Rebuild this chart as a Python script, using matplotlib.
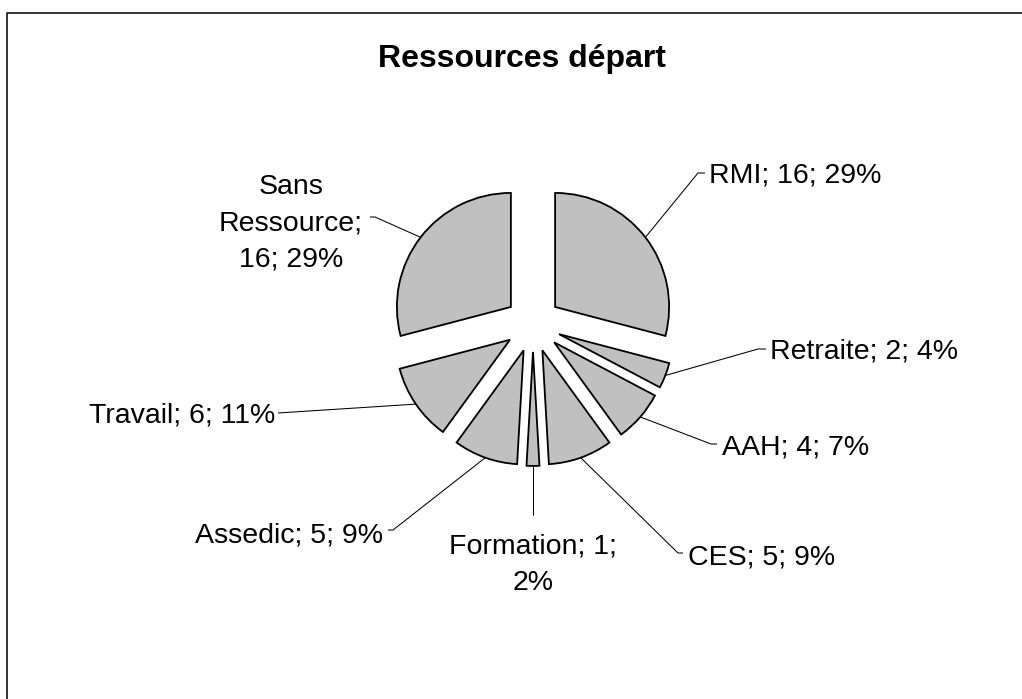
import matplotlib
matplotlib.use('Agg')
import matplotlib.pyplot as plt
import numpy as np
from matplotlib.lines import Line2D

# ---------------- data ----------------
categories = ['RMI', 'Retraite', 'AAH', 'CES', 'Formation', 'Assedic', 'Travail', 'Sans Ressource']
values = [16, 2, 4, 5, 1, 5, 6, 16]
title = 'Ressources départ'

total = sum(values)
percents = [int(round(100 * v / total)) for v in values]
label_texts = [f"{c}; {v}; {p}%" for c, v, p in zip(categories, values, percents)]
# manual line wrapping as in the reference
label_texts[4] = label_texts[4].replace('1; ', '1;\n')
label_texts[7] = label_texts[7].replace('Sans ', 'Sans\n').replace('; 16', ';\n16')

# ---------------- layout (pixels) ----------------
W, H, DPI = 1022, 699, 100
cx, cy, R = 533, 324, 114          # pie centre and radius in pixels
explode_frac = 0.245

# (text x, baseline y of last line, ha, leader end x, leader end y, elbow dx)
label_layout = [
    (709, 183, 'left', 705, 173, -7),
    (770, 359, 'left', 766, 349, -8),
    (722, 455, 'left', 717, 444, -6),
    (688, 565, 'left', 683, 553, -5),
    (533, 590, 'center', 533, 515, 0),
    (383, 542, 'right', 388, 530, 5),
    (275, 423, 'right', 278, 413, 0),
    (291, 267, 'center', 370, 217, 5),
]

plt.rcParams['font.family'] = ['Liberation Sans', 'DejaVu Sans']

fig = plt.figure(figsize=(W / DPI, H / DPI), dpi=DPI)
ax = fig.add_axes([0, 0, 1, 1])

wedges, _ = ax.pie(values, explode=[explode_frac] * len(values), startangle=90,
                   counterclock=False, colors=['#C0C0C0'] * len(values), radius=1,
                   wedgeprops=dict(edgecolor='black', linewidth=1.3))

ax.set_xlim(-cx / R, (W - cx) / R)
ax.set_ylim((cy - H) / R, cy / R)
ax.set_aspect('auto')
ax.axis('off')


def X(px):
    return (px - cx) / R


def Y(py):
    return (cy - py) / R


for w, txt, (tx, ty, ha, ex, ey, edx) in zip(wedges, label_texts, label_layout):
    mid = np.deg2rad((w.theta1 + w.theta2) / 2)
    ax0 = w.center[0] + w.r * np.cos(mid)
    ay0 = w.center[1] + w.r * np.sin(mid)
    xs = [ax0, X(ex + edx), X(ex)]
    ys = [ay0, Y(ey), Y(ey)]
    ax.plot(xs, ys, color='black', lw=0.75, solid_capstyle='butt')
    ax.text(X(tx), Y(ty), txt, ha=ha, va='baseline', fontsize=20.5,
            multialignment='center', linespacing=1.53, color='black')

fig.text(521.5 / W, 1 - 67 / H, title, ha='center', va='baseline',
         fontsize=23, fontweight='bold', color='black')

fig.add_artist(Line2D([6.5 / W, 6.5 / W, 1.01], [-0.01, 1 - 12.5 / H, 1 - 12.5 / H],
                      transform=fig.transFigure, color='#111111', lw=1.2))

fig.savefig('out.png', dpi=DPI)
